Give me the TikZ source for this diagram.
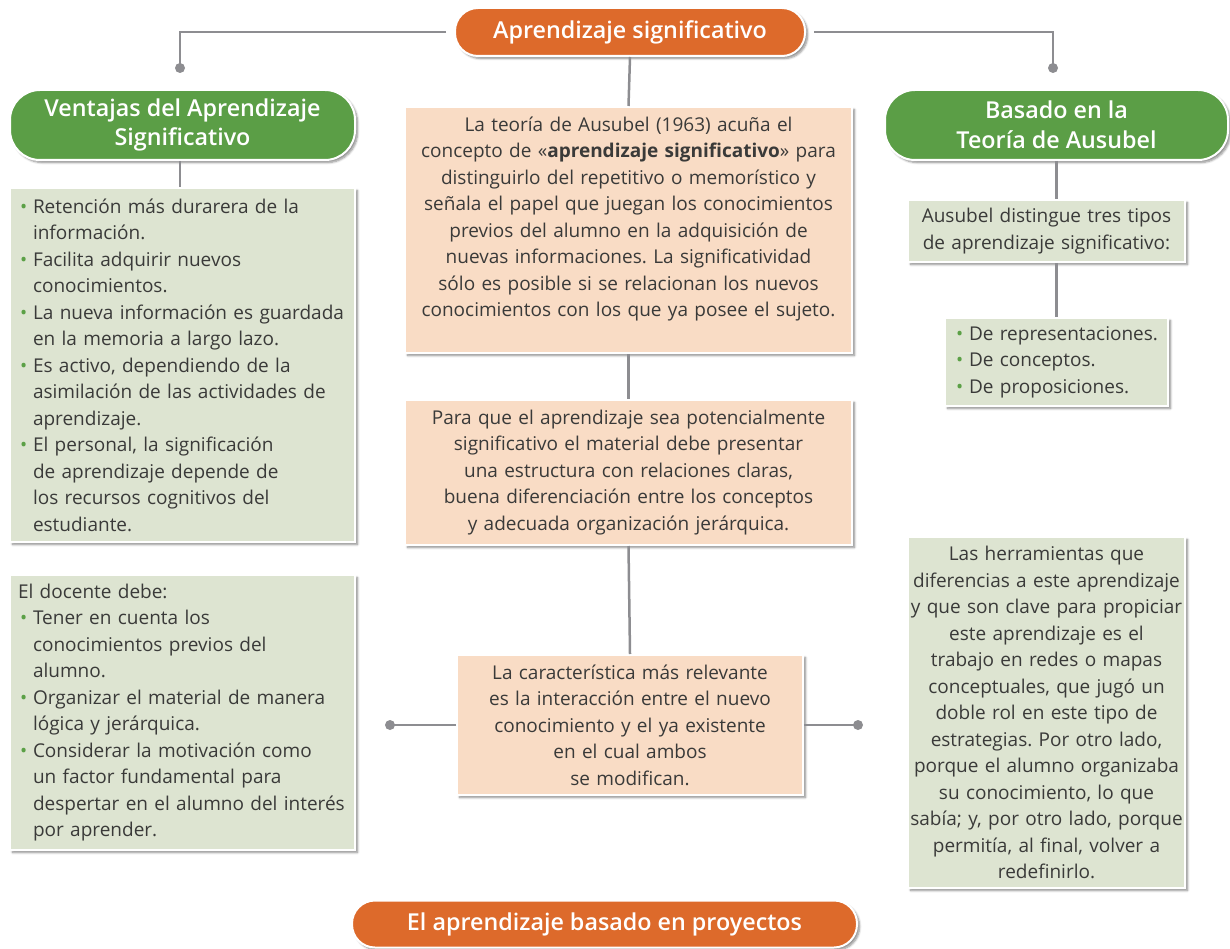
\documentclass[tikz,border=0pt]{standalone}
\usepackage{fontspec}
\setmainfont{Open Sans}
\newfontfamily\headfont{Open Sans Semibold}
\usetikzlibrary{positioning, shadows.blur}
\frenchspacing

\definecolor{mapOrange}{HTML}{DD6A2B}
\definecolor{mapGreen}{HTML}{5B9E46}
\definecolor{peachFill}{HTML}{F9DCC5}
\definecolor{sageFill}{HTML}{DDE4D1}
\definecolor{linkGray}{HTML}{8D8D91}
\definecolor{txtGray}{HTML}{3A3A39}
\definecolor{bulGreen}{HTML}{5BA046}

% bullet item and continuation indent
\newcommand{\itm}{\makebox[15pt][l]{\hspace{2pt}\textcolor{bulGreen}{\textbullet}}}
\newcommand{\cnt}{\hspace*{15pt}}

\begin{document}
\begin{tikzpicture}[x=1pt, y=-1pt,
    base/.style={draw=white, line width=2pt, inner sep=0pt, text=txtGray,
        font=\fontsize{19}{26.5}\selectfont,
        blur shadow={shadow xshift=2.5pt, shadow yshift=-2.5pt, shadow blur steps=6, shadow opacity=45}},
    pill/.style={base, text=white, align=center,
        font=\headfont\fontsize{23.3}{29.5}\selectfont},
    headO/.style={pill, fill=mapOrange, rounded corners=23pt},
    headG/.style={pill, fill=mapGreen, rounded corners=30pt},
    peachbox/.style={base, fill=peachFill, align=center},
    sagebox/.style={base, fill=sageFill},
    link/.style={draw=linkGray, line width=2.5pt},
    dot/.style={circle, fill=linkGray, inner sep=0pt, minimum size=10pt}]

    \useasboundingbox (0,0) rectangle (1230,949);

    % Headings
    \node[headO, minimum width=350pt, minimum height=48pt] (title) at (630,32) {Aprendizaje significativo};
    \node[headG, minimum width=345pt, minimum height=70pt] (ventajas) at (182.5,125) {Ventajas del Aprendizaje\\Significativo};
    \node[headG, minimum width=343pt, minimum height=70pt] (basado) at (1056.5,125) {Basado en la\\Teoría de Ausubel};
    \node[headO, minimum width=505pt, minimum height=47pt] (proyectos) at (604.5,924) {El aprendizaje basado en proyectos};

    % Middle column
    \node[peachbox, minimum width=447pt, minimum height=246pt, text width=440pt] (teoria) at (628.5,230) {%
        La teoría de Ausubel (1963) acuña el\\
        concepto de «\textbf{aprendizaje significativo}» para\\
        distinguirlo del repetitivo o memorístico y\\
        señala el papel que juegan los conocimientos\\
        previos del alumno en la adquisición de\\
        nuevas informaciones. La significatividad\\
        sólo es posible si se relacionan los nuevos\\
        conocimientos con los que ya posee el sujeto.\\
        \mbox{}};
    \node[peachbox, minimum width=447pt, minimum height=145pt, text width=440pt] (material) at (628.5,472.5) {%
        Para que el aprendizaje sea potencialmente\\
        significativo el material debe presentar\\
        una estructura con relaciones claras,\\
        buena diferenciación entre los conceptos\\
        y adecuada organización jerárquica.};
    \node[peachbox, minimum width=346pt, minimum height=140pt, text width=340pt] (interaccion) at (630,725) {%
        La característica más relevante\\
        es la interacción entre el nuevo\\
        conocimiento y el ya existente\\
        en el cual ambos\\
        se modifican.};

    % Left column
    \node[sagebox, minimum width=345pt, minimum height=354pt, text width=329pt, align=left] (retencion) at (182.5,365) {%
        \itm Retención más durarera de la\\
        \cnt información.\\
        \itm Facilita adquirir nuevos\\
        \cnt conocimientos.\\
        \itm La nueva información es guardada\\
        \cnt en la memoria a largo lazo.\\
        \itm Es activo, dependiendo de la\\
        \cnt asimilación de las actividades de\\
        \cnt aprendizaje.\\
        \itm El personal, la significación\\
        \cnt de aprendizaje depende de\\
        \cnt los recursos cognitivos del\\
        \cnt estudiante.};
    \node[sagebox, minimum width=345pt, minimum height=275pt, text width=329pt, align=left] (docente) at (182.5,712.5) {%
        El docente debe:\\
        \itm Tener en cuenta los\\
        \cnt conocimientos previos del\\
        \cnt alumno.\\
        \itm Organizar el material de manera\\
        \cnt lógica y jerárquica.\\
        \itm Considerar la motivación como\\
        \cnt un factor fundamental para\\
        \cnt despertar en el alumno del interés\\
        \cnt por aprender.};

    % Right column
    \node[sagebox, minimum width=277pt, minimum height=62pt, text width=275pt, align=center] (tipos) at (1046.5,231) {%
        Ausubel distingue tres tipos\\
        de aprendizaje significativo:};
    \node[sagebox, minimum width=223pt, minimum height=88pt, text width=205pt, align=left] (lista) at (1056.5,362) {%
        \itm De representaciones.\\
        \itm De conceptos.\\
        \itm De proposiciones.};
    \node[sagebox, minimum width=277pt, minimum height=351pt, text width=275pt, align=center] (herramientas) at (1046.5,712.5) {%
        Las herramientas que\\
        diferencias a este aprendizaje\\
        y que son clave para propiciar\\
        este aprendizaje es el\\
        trabajo en redes o mapas\\
        conceptuales, que jugó un\\
        doble rol en este tipo de\\
        estrategias. Por otro lado,\\
        porque el alumno organizaba\\
        su conocimiento, lo que\\
        sabía; y, por otro lado, porque\\
        permitía, al final, volver a\\
        redefinirlo.};

    % Free ends of the connectors
    \coordinate (endL) at (180,68);
    \coordinate (endR) at (1053,68);
    \coordinate (endML) at (390,725);
    \coordinate (endMR) at (858,725);

    % Connectors
    \draw[link] ([xshift=-8pt]title.west) -| (endL);
    \draw[link] ([xshift=8pt]title.east) -| (endR);
    \draw[link] (title.south) -- (teoria.north);
    \draw[link] (teoria.south) -- (material.north);
    \draw[link] (material.south) -- (interaccion.north);
    \draw[link] (ventajas.south -| endL) -- (retencion.north -| endL);
    \draw[link] (basado.south) -- (basado.south |- tipos.north);
    \draw[link] (tipos.south -| basado.south) -- (lista.north);
    \draw[link] (interaccion.west) -- (endML);
    \draw[link] (interaccion.east) -- (endMR);

    \foreach \e in {endL, endR, endML, endMR}
        \node[dot] at (\e) {};

\end{tikzpicture}
\end{document}
